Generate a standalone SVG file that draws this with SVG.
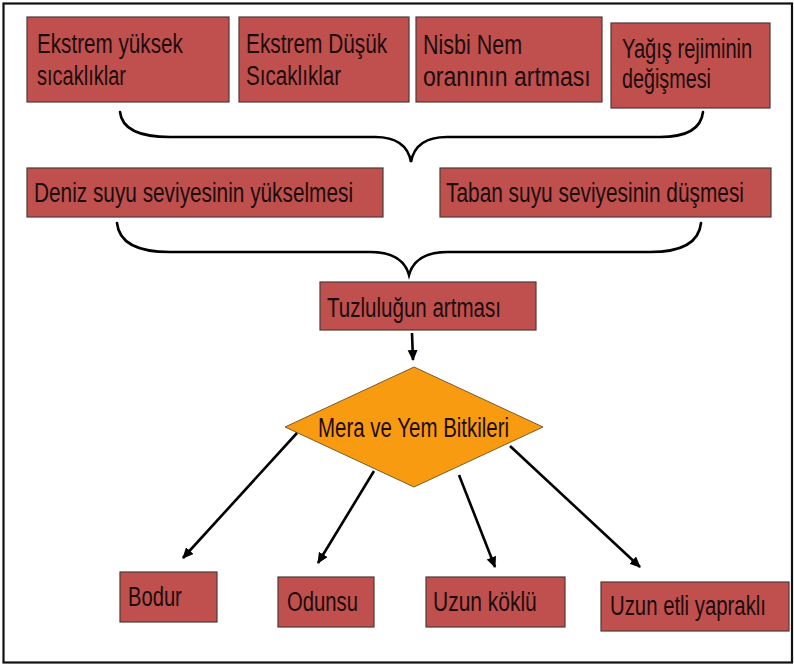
<svg xmlns="http://www.w3.org/2000/svg" width="794" height="665" viewBox="0 0 794 665">
<defs>
<style>
.box{fill:#C0504D;stroke:#4d3a3a;stroke-width:1.2}
.t{font-family:"Liberation Sans",Arial,sans-serif;font-size:28px;fill:#1c0c0c}
.brace{fill:none;stroke:#000;stroke-width:2.6;stroke-linecap:round}
.arr{fill:none;stroke:#000;stroke-width:2.6;marker-end:url(#ah)}
</style>
<marker id="ah" markerUnits="userSpaceOnUse" markerWidth="12" markerHeight="11" refX="10" refY="5" orient="auto">
<path d="M0,0 L11,5 L0,10 z" fill="#000"/>
</marker>
</defs>
<rect x="0" y="0" width="794" height="665" fill="#fff"/>
<rect x="3.5" y="3.5" width="788.5" height="659" fill="none" stroke="#111" stroke-width="2.2"/>

<g id="n1"><rect class="box" x="27" y="17" width="202" height="85"/>
<text class="t" transform="translate(37,53) scale(0.78,1)" textLength="187" lengthAdjust="spacingAndGlyphs">Ekstrem yüksek</text>
<text class="t" transform="translate(37,85) scale(0.78,1)" textLength="114" lengthAdjust="spacingAndGlyphs">sıcaklıklar</text></g>

<g id="n2"><rect class="box" x="239" y="17" width="170" height="85"/>
<text class="t" transform="translate(246,53) scale(0.78,1)" textLength="181" lengthAdjust="spacingAndGlyphs">Ekstrem Düşük</text>
<text class="t" transform="translate(246,85) scale(0.78,1)" textLength="122" lengthAdjust="spacingAndGlyphs">Sıcaklıklar</text></g>

<g id="n3"><rect class="box" x="416" y="17" width="186" height="85"/>
<text class="t" transform="translate(423,54) scale(0.78,1)" textLength="127" lengthAdjust="spacingAndGlyphs">Nisbi Nem</text>
<text class="t" transform="translate(423,86) scale(0.78,1)" textLength="215" lengthAdjust="spacingAndGlyphs">oranının artması</text></g>

<g id="n4"><rect class="box" x="611" y="23" width="159" height="85"/>
<text class="t" transform="translate(622,58) scale(0.78,1)" textLength="167" lengthAdjust="spacingAndGlyphs">Yağış rejiminin</text>
<text class="t" transform="translate(622,88) scale(0.78,1)" textLength="114" lengthAdjust="spacingAndGlyphs">değişmesi</text></g>

<g id="n5"><rect class="box" x="27" y="168" width="356" height="49"/>
<text class="t" transform="translate(34,202) scale(0.78,1)" textLength="409" lengthAdjust="spacingAndGlyphs">Deniz suyu seviyesinin yükselmesi</text></g>

<g id="n6"><rect class="box" x="440" y="168" width="331" height="49"/>
<text class="t" transform="translate(446,202) scale(0.78,1)" textLength="382" lengthAdjust="spacingAndGlyphs">Taban suyu seviyesinin düşmesi</text></g>

<g id="n7"><rect class="box" x="320" y="282" width="216" height="48"/>
<text class="t" transform="translate(327,317) scale(0.78,1)" textLength="223" lengthAdjust="spacingAndGlyphs">Tuzluluğun artması</text></g>

<g id="n8"><polygon points="414,367 543,427 414,487 285,427" fill="#F99B10" stroke="#7a5a2a" stroke-width="1"/>
<text class="t" transform="translate(318,437) scale(0.78,1)" textLength="245" lengthAdjust="spacingAndGlyphs">Mera ve Yem Bitkileri</text></g>

<g id="n9"><rect class="box" x="120" y="572" width="97" height="50"/>
<text class="t" transform="translate(128,606) scale(0.78,1)" textLength="69" lengthAdjust="spacingAndGlyphs">Bodur</text></g>

<g id="n10"><rect class="box" x="278" y="577" width="96" height="50"/>
<text class="t" transform="translate(287,611) scale(0.78,1)" textLength="91" lengthAdjust="spacingAndGlyphs">Odunsu</text></g>

<g id="n11"><rect class="box" x="426" y="577" width="139" height="50"/>
<text class="t" transform="translate(433,611) scale(0.78,1)" textLength="133" lengthAdjust="spacingAndGlyphs">Uzun köklü</text></g>

<g id="n12"><rect class="box" x="601" y="582" width="188" height="49"/>
<text class="t" transform="translate(610,615) scale(0.78,1)" textLength="200" lengthAdjust="spacingAndGlyphs">Uzun etli yapraklı</text></g>

<g id="connectors">
<path class="brace" d="M120,112 C122,130 140,137 170,137 L375,137 C395,137 408,145 411,162 C414,145 427,137 447,137 L660,137 C685,137 701,130 703,112"/>
<path class="brace" d="M117,223 C119,243 138,252 170,252 L370,252 C392,252 405,260 409,275 C413,260 426,252 448,252 L650,252 C682,252 699,243 701,223"/>
<line class="arr" x1="412" y1="333" x2="413" y2="360"/>
<line class="arr" x1="297" y1="433" x2="183" y2="558"/>
<line class="arr" x1="374" y1="471" x2="318" y2="563"/>
<line class="arr" x1="459" y1="475" x2="495" y2="567"/>
<line class="arr" x1="510" y1="446" x2="640" y2="567"/>
</g>
</svg>
